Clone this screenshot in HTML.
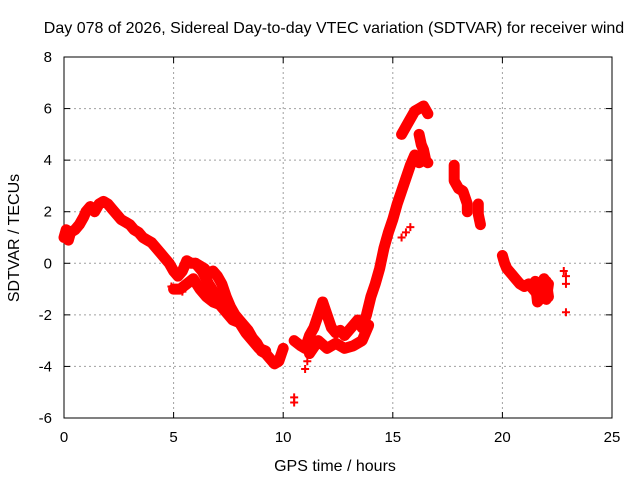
<!DOCTYPE html>
<html><head><meta charset="utf-8"><style>
body{margin:0;background:#fff}
svg text{font-family:"Liberation Sans",sans-serif;font-size:15px;fill:#000}
</style></head><body>
<svg id="chart" width="640" height="480">
<rect width="640" height="480" fill="#fff"/>
<text x="334" y="33" text-anchor="middle" style="font-size:16px">Day 078 of 2026, Sidereal Day-to-day VTEC variation (SDTVAR) for receiver wind</text>
<g id="grid"></g>
<g id="axes"></g>
<g id="marks"></g>
<text x="335" y="471" text-anchor="middle" style="font-size:16px">GPS time / hours</text>
<text transform="translate(19,238) rotate(-90)" text-anchor="middle" style="font-size:16px">SDTVAR / TECUs</text>
</svg>
<script>
const xTicks=[0,5,10,15,20,25];
const yTicks=[-6,-4,-2,0,2,4,6,8];
const trackMain=[[0,1.0],[0.1,1.3],[0.2,0.9],[0.3,1.2],[0.5,1.3],[0.7,1.5],[0.9,1.8],[1.0,2.0],[1.2,2.2],[1.4,2.0],[1.6,2.3],[1.8,2.4],[2.0,2.3],[2.2,2.1],[2.4,1.9],[2.6,1.7],[2.8,1.6],[3.0,1.5],[3.2,1.3],[3.4,1.2],[3.6,1.0],[3.8,0.9],[4.0,0.8],[4.2,0.6],[4.4,0.4],[4.6,0.2],[4.8,0.0],[5.0,-0.3],[5.2,-0.5],[5.4,-0.3],[5.6,0.1],[5.8,0.0],[6.0,0.0],[6.2,-0.1],[6.4,-0.2],[6.6,-0.4],[6.8,-0.3],[7.0,-0.5],[7.2,-0.8],[7.4,-1.3],[7.6,-1.7],[7.8,-2.0],[8.0,-2.2],[8.2,-2.4],[8.4,-2.6],[8.6,-2.9],[8.8,-3.1],[9.0,-3.4],[9.2,-3.5],[9.4,-3.7],[9.6,-3.9],[9.8,-3.8],[10.0,-3.3]];
const trackLow1=[[5.0,-1.0],[5.3,-1.0],[5.6,-0.8],[5.9,-0.6],[6.2,-1.0],[6.5,-1.3],[6.8,-1.5],[7.1,-1.6],[7.4,-1.9],[7.7,-2.2],[8.0,-2.3],[8.3,-2.7],[8.6,-3.0],[8.9,-3.3],[9.2,-3.4]];
const trackBump=[[6.0,0.0],[6.3,-0.3],[6.6,-0.8],[6.9,-1.2],[7.1,-1.4]];
const trackMid=[[10.5,-3.0],[10.8,-3.2],[11.0,-3.3],[11.2,-2.8],[11.4,-2.5],[11.6,-2.0],[11.8,-1.5],[12.0,-2.0],[12.2,-2.5],[12.4,-2.7],[12.6,-2.6],[12.8,-2.8],[13.0,-2.6],[13.2,-2.4],[13.4,-2.2],[13.6,-2.5],[13.8,-2.0],[14.0,-1.3],[14.2,-0.8],[14.4,-0.2],[14.6,0.6],[14.8,1.2],[15.0,1.7],[15.2,2.3],[15.4,2.8],[15.6,3.3],[15.8,3.8],[16.0,4.2],[16.2,3.9],[16.4,4.0],[16.6,3.9]];
const trackLow2=[[11.2,-3.5],[11.6,-3.0],[12.0,-3.3],[12.4,-3.1],[12.8,-3.3],[13.2,-3.2],[13.6,-3.0],[13.9,-2.4]];
const trackHigh=[[15.4,5.0],[15.6,5.3],[15.8,5.6],[16.0,5.9],[16.2,6.0],[16.4,6.1],[16.6,5.8]];
const trackUpperMid=[[16.2,5.0],[16.3,4.6],[16.4,4.4],[16.5,4.0]];
const trackEve1=[[17.8,3.8],[17.8,3.2],[18.0,2.9],[18.2,2.8],[18.4,2.3],[18.4,2.0]];
const trackEve2=[[18.9,2.3],[18.9,1.9],[19.0,1.5]];
const trackEve=[[20.0,0.3],[20.1,0.0],[20.2,-0.2],[20.4,-0.4],[20.6,-0.6],[20.8,-0.8],[21.0,-0.9],[21.2,-0.8],[21.4,-1.0],[21.6,-1.2],[21.8,-1.0],[22.0,-0.7],[22.1,-1.3]];
const trackEve3=[[21.5,-0.7],[21.6,-1.5],[21.8,-1.3],[21.9,-0.6],[22.0,-1.4],[22.1,-0.8]];
const scatterPts=[[10.5,-5.4],[10.5,-5.2],[11.0,-4.1],[11.1,-3.8],[15.6,1.2],[15.8,1.4],[15.4,1.0],[22.8,-0.3],[22.9,-0.8],[22.9,-0.5],[22.9,-1.9],[9.9,-3.6],[4.9,-0.9],[5.4,-1.1]];
const X0=64,X1=612,Y0=418,Y1=57;
const xs=v=>X0+(v-0)/(25-0)*(X1-X0);
const ys=v=>Y0-(v+6)/(14)*(Y0-Y1);
const NS="http://www.w3.org/2000/svg";
function mk(t,a,p){const e=document.createElementNS(NS,t);for(const k in a)e.setAttribute(k,a[k]);p.appendChild(e);return e;}
const grid=document.getElementById('grid'),axes=document.getElementById('axes'),marks=document.getElementById('marks');
xTicks.forEach(t=>{const x=xs(t);
 if(t>0&&t<25){const g=mk('line',{x1:x,y1:Y1,x2:x,y2:Y0,stroke:'#a0a0a0','stroke-dasharray':'2,3'},grid);}
 const tx=mk('text',{x:x,y:Y0+24,'text-anchor':'middle'},axes);tx.textContent=t;
 
 mk('line',{x1:x,y1:Y0,x2:x,y2:Y0-6,stroke:'#000'},axes);mk('line',{x1:x,y1:Y1,x2:x,y2:Y1+6,stroke:'#000'},axes);});
yTicks.forEach(t=>{const y=ys(t);
 if(t>-6&&t<8){const g=mk('line',{x1:X0,y1:y,x2:X1,y2:y,stroke:'#a0a0a0','stroke-dasharray':'2,3'},grid);}
 const tx=mk('text',{x:X0-12,y:y+5,'text-anchor':'end'},axes);tx.textContent=t;
 
 mk('line',{x1:X0,y1:y,x2:X0+6,y2:y,stroke:'#000'},axes);mk('line',{x1:X1,y1:y,x2:X1-6,y2:y,stroke:'#000'},axes);});
mk('rect',{x:X0,y:Y1,width:X1-X0,height:Y0-Y1,fill:'none',stroke:'#000'},axes);
function plus(x,y){const p=mk('path',{d:`M${x-4},${y}h8M${x},${y-4}v8`,stroke:'#f00','stroke-width':2},marks);}
[trackMain,trackLow1,trackBump,trackMid,trackLow2,trackHigh,trackUpperMid,trackEve1,trackEve2,trackEve,trackEve3].forEach(tr=>{
 const pl=mk('polyline',{points:tr.map(p=>xs(p[0])+','+ys(p[1])).join(' '),fill:'none',stroke:'#f00','stroke-width':11,'stroke-linejoin':'round','stroke-linecap':'round'},marks);
 
 tr.forEach(p=>plus(xs(p[0]),ys(p[1])));});
scatterPts.forEach(p=>plus(xs(p[0]),ys(p[1])));
</script>
</body></html>
